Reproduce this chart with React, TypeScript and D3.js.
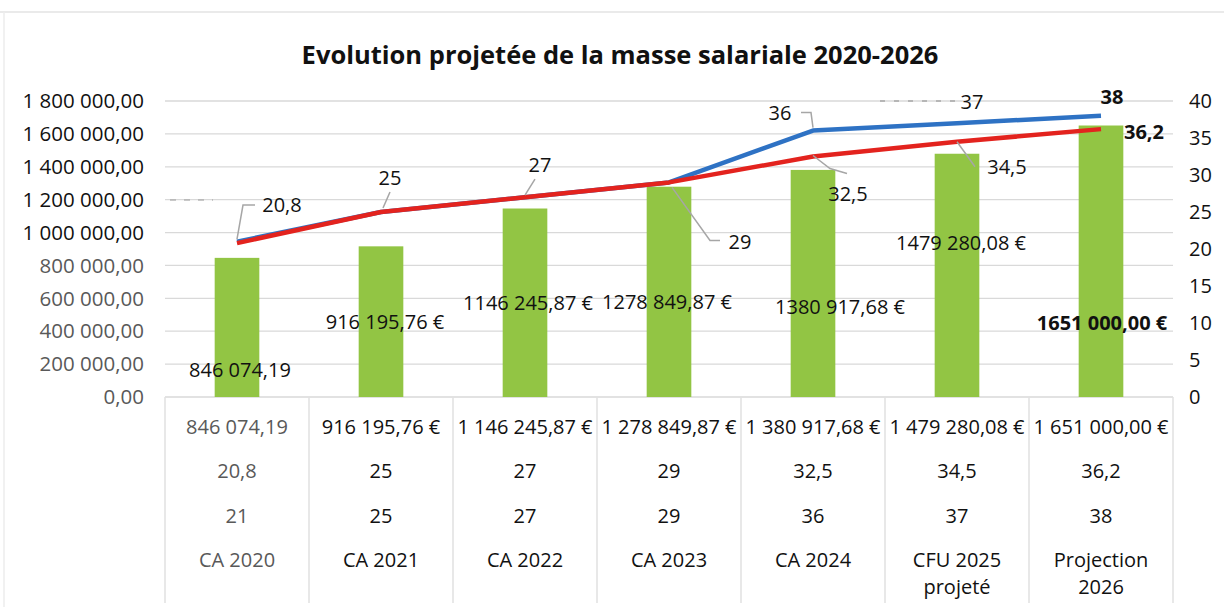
import React from "react";
import * as d3 from "d3";

// ---------- data ----------
const categories: string[][] = [
  ["CA 2020"],
  ["CA 2021"],
  ["CA 2022"],
  ["CA 2023"],
  ["CA 2024"],
  ["CFU 2025", "projeté"],
  ["Projection", "2026"],
];
const masseSalariale: number[] = [846074.19, 916195.76, 1146245.87, 1278849.87, 1380917.68, 1479280.08, 1651000.0];
const euroSuffix: boolean[] = [false, true, true, true, true, true, true];
const etpRouge: number[] = [20.8, 25, 27, 29, 32.5, 34.5, 36.2];
const etpBleu: number[] = [21, 25, 27, 29, 36, 37, 38];
const leftTicks: number[] = [0, 200000, 400000, 600000, 800000, 1000000, 1200000, 1400000, 1600000, 1800000];
const rightTicks: number[] = [0, 5, 10, 15, 20, 25, 30, 35, 40];
const title = "Evolution projetée de la masse salariale 2020-2026";

// ---------- layout (not data) ----------
const W = 1224, H = 607;
const PL = 165, PR = 1173, PT = 101, PB = 397;
const FONT = "'Open Sans', 'DejaVu Sans', sans-serif";
const FS = 20;
const GREEN = "#92c544", RED = "#e3231e", BLUE = "#2e72c4", GRID = "#d9d9d9";
// label offsets relative to each mark's anchor
const barLabelOff: [number, number][] = [[3, 112], [4, 76], [3, 94], [-2, 115], [27, 137], [4, 89], [1, 197]];
const redLabelOff: [number, number][] = [[45, -38], [9, -34], [15, -32], [71, 60], [35, 37], [50, 25], [43, 3]];
const redLeaders: [number, number][][] = [
  [[0, -4], [6, -38], [18, -38]],
  [[2, -4], [9, -20]],
  [[0, -2], [10, -18]],
  [[3, 5], [41, 58], [51, 58]],
  [[0, -1], [17, 12], [34, 17]],
  [[0, 0], [18, 25]],
  [],
];
const blueShown: boolean[] = [false, false, false, false, true, true, true];
const blueLabelOff: [number, number][] = [[0, 0], [0, 0], [0, 0], [0, 0], [-33, -18], [15, -21], [11, -19]];
const blueLeaders: [number, number][][] = [[], [], [], [], [[0, -3], [-2, -18], [-12, -18]], [], []];

const fmtNum = d3.formatLocale({ decimal: ",", thousands: " ", grouping: [3], currency: ["", " €"] }).format(",.2f");
const tableLabel = (v: number, i: number) => fmtNum(v) + (euroSuffix[i] ? " €" : "");
const plotLabel = (v: number, i: number) => {
  const s = tableLabel(v, i);
  return v >= 1e6 ? s.replace(" ", "") : s;
};
const fmtDec = (v: number) => String(v).replace(".", ",");

export default function App() {
  const x = d3.scaleBand<number>().domain(d3.range(categories.length)).range([PL, PR]).padding(0);
  const bw = x.bandwidth();
  const cx = (i: number) => (x(i) as number) + bw / 2;
  const yL = d3.scaleLinear().domain([0, 1800000]).range([PB, PT]);
  const yR = d3.scaleLinear().domain([0, 40]).range([PB, PT]);
  const barW = bw * 0.31;
  const line = d3.line<number>().x((_, i) => cx(i)).y((d) => yR(d));

  const rowY = [427, 471, 516, 560, 587];
  const grey = "#595959";

  return (
    <svg width={W} height={H} style={{ position: "absolute", left: 0, top: 0, background: "#fff" }} fontFamily={FONT}>
      {/* frame */}
      <line x1={0} x2={W} y1={12} y2={12} stroke="#e3e3e3" strokeWidth={1.5} />
      <line x1={4} x2={4} y1={12} y2={H} stroke="#ececec" strokeWidth={1.5} />

      <text x={620} y={55} textAnchor="middle" dy="0.35em" fontSize={25.5} fontWeight="bold" fill="#111">
        {title}
      </text>

      {/* gridlines */}
      {leftTicks.map((t) => (
        <line key={"g" + t} x1={PL} x2={PR} y1={yL(t)} y2={yL(t)} stroke={GRID} strokeWidth={1.3} />
      ))}

      {/* left axis labels */}
      {leftTicks.map((t) => (
        <text key={"l" + t} x={144} y={yL(t)} dy="0.35em" textAnchor="end" fontSize={FS + 0.5} fill={t >= 1000000 ? "#111" : grey}>
          {fmtNum(t)}
        </text>
      ))}
      {/* right axis labels */}
      {rightTicks.map((t) => (
        <text key={"r" + t} x={1189} y={yR(t)} dy="0.35em" textAnchor="start" fontSize={FS} fill="#111">
          {t}
        </text>
      ))}

      {/* bars */}
      {masseSalariale.map((v, i) => (
        <rect key={"b" + i} x={cx(i) - barW / 2} y={yL(v)} width={barW} height={PB - yL(v)} fill={GREEN} />
      ))}

      {/* lines */}
      <path d={line(etpBleu) || ""} fill="none" stroke={BLUE} strokeWidth={4.5} strokeLinejoin="round" />
      <path d={line(etpRouge) || ""} fill="none" stroke={RED} strokeWidth={4.5} strokeLinejoin="round" />

      {/* leader lines */}
      {etpRouge.map((v, i) =>
        redLeaders[i].length ? (
          <polyline key={"rl" + i} points={redLeaders[i].map(([dx, dy]) => `${cx(i) + dx},${yR(v) + dy}`).join(" ")} fill="none" stroke="#a6a6a6" strokeWidth={1.5} />
        ) : null
      )}
      {etpBleu.map((v, i) =>
        blueLeaders[i].length ? (
          <polyline key={"bl" + i} points={blueLeaders[i].map(([dx, dy]) => `${cx(i) + dx},${yR(v) + dy}`).join(" ")} fill="none" stroke="#a6a6a6" strokeWidth={1.5} />
        ) : null
      )}
      {/* faint scanned dashes */}
      <line x1={170} x2={213} y1={200} y2={200} stroke="#9a9a9a" strokeWidth={1} strokeDasharray="6 8" />
      <line x1={880} x2={958} y1={101} y2={101} stroke="#8a8a8a" strokeWidth={1} strokeDasharray="5 9" />

      {/* bar labels */}
      {masseSalariale.map((v, i) => (
        <text key={"bt" + i} x={cx(i) + barLabelOff[i][0]} y={yL(v) + barLabelOff[i][1]} dy="0.35em" textAnchor="middle" fontSize={FS}
          fontWeight={i === 6 ? "bold" : "normal"} fill="#111">
          {plotLabel(v, i)}
        </text>
      ))}
      {/* red labels */}
      {etpRouge.map((v, i) => (
        <text key={"rt" + i} x={cx(i) + redLabelOff[i][0]} y={yR(v) + redLabelOff[i][1]} dy="0.35em" textAnchor="middle" fontSize={FS}
          fontWeight={i === 6 ? "bold" : "normal"} fill="#111">
          {fmtDec(v)}
        </text>
      ))}
      {/* blue labels */}
      {etpBleu.map((v, i) =>
        blueShown[i] ? (
          <text key={"btl" + i} x={cx(i) + blueLabelOff[i][0]} y={yR(v) + blueLabelOff[i][1]} dy="0.35em" textAnchor="middle" fontSize={FS}
            fontWeight={i === 6 ? "bold" : "normal"} fill="#111">
            {fmtDec(v)}
          </text>
        ) : null
      )}

      {/* data table */}
      {d3.range(categories.length + 1).map((k) => {
        const xx = k < categories.length ? (x(k) as number) : PR;
        return <line key={"tv" + k} x1={xx} x2={xx} y1={PB} y2={603} stroke="#e0e0e0" strokeWidth={1.5} />;
      })}
      {categories.map((c, i) => {
        const col = i === 0 ? grey : "#111";
        return (
          <g key={"tc" + i} fontSize={FS} fill={col} textAnchor="middle">
            <text x={cx(i)} y={rowY[0]} dy="0.35em">{tableLabel(masseSalariale[i], i)}</text>
            <text x={cx(i)} y={rowY[1]} dy="0.35em">{fmtDec(etpRouge[i])}</text>
            <text x={cx(i)} y={rowY[2]} dy="0.35em">{fmtDec(etpBleu[i])}</text>
            {c.map((s, j) => (
              <text key={j} x={cx(i)} y={rowY[3 + j]} dy="0.35em">{s}</text>
            ))}
          </g>
        );
      })}
    </svg>
  );
}
